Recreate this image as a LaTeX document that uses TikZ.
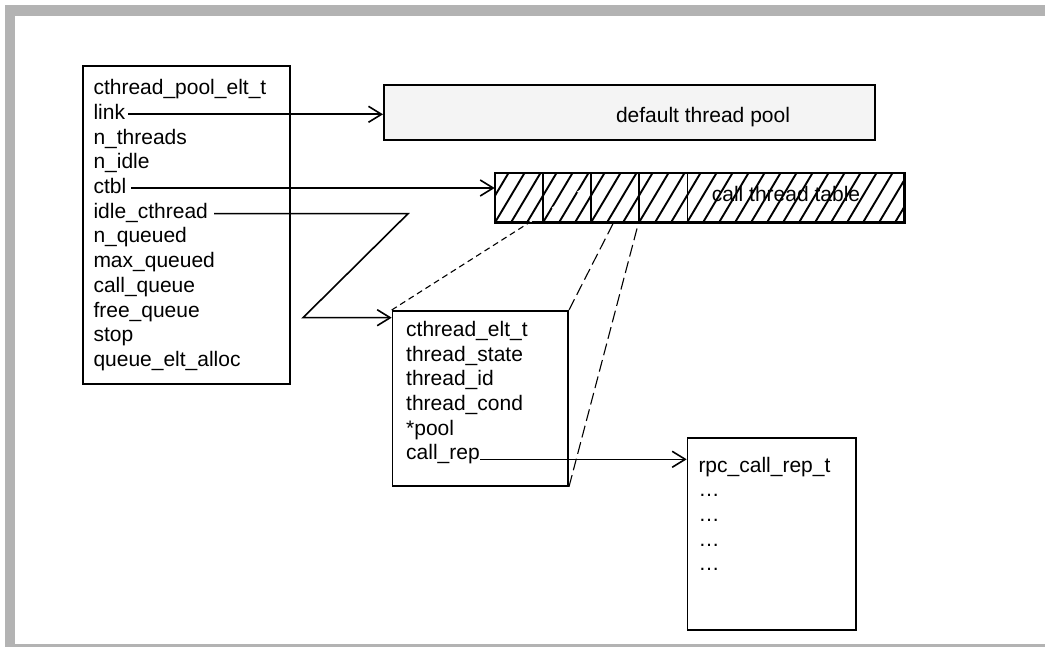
\documentclass[tikz,border=0pt]{standalone}
\usepackage{fontspec}
\setmainfont{Liberation Sans}
\usetikzlibrary{arrows.meta}
\definecolor{framegray}{HTML}{B3B3B3}
\definecolor{poolfill}{HTML}{F4F4F4}
\begin{document}
\begin{tikzpicture}[x=1pt,y=-1pt,
  box/.style={draw, line width=1.7pt, inner sep=0pt, anchor=north west},
  txt/.style={font=\fontsize{21}{24.7}\selectfont, align=left, inner sep=0pt, anchor=north west},
  lbl/.style={font=\fontsize{21}{24.7}\selectfont, inner sep=0pt, anchor=base},
  conn/.style={line width=1.6pt, -{Straight Barb[length=13pt,width=16pt]}},
  dashA/.style={line width=1.1pt, dash pattern=on 6pt off 4pt},
  dashB/.style={line width=1.1pt, dash pattern=on 12pt off 5pt},
  hatchline/.style={line width=1.9pt}]
\useasboundingbox (0,0) rectangle (1045,647);
% frame
\fill[framegray] (5,5) rectangle (1045,16);
\fill[framegray] (5,5) rectangle (15,647);
\fill[framegray] (15,644) rectangle (1045,647);

% left structure
\node[box, minimum width=207pt, minimum height=318pt] (poolelt) at (82.3,65) {};
\node[txt] (pooltxt) at (93.3,79.3) {cthread\_pool\_elt\_t\\link\\n\_threads\\n\_idle\\ctbl\\idle\_cthread\\n\_queued\\max\_queued\\call\_queue\\free\_queue\\stop\\queue\_elt\_alloc};

% default thread pool
\node[box, fill=poolfill, minimum width=491pt, minimum height=55pt] (dpool) at (383,84) {};
\node[lbl] (dpooltxt) at (703,122.7) {default thread pool};

% cthread element
\node[box, minimum width=175.6pt, minimum height=175pt] (ct) at (391.7,310) {};
\node[txt] (cttxt) at (406,321) {cthread\_elt\_t\\thread\_state\\thread\_id\\thread\_cond\\*pool\\call\_rep};

% rpc call rep
\node[box, minimum width=168.3pt, minimum height=192pt] (rpc) at (686.7,437) {};
\node[txt] (rpctxt) at (698.3,456.7) {rpc\_call\_rep\_t\\…\\…\\…\\…};

% dashed projection lines (under table)
\coordinate (d1) at (591,183.4);
\coordinate (d2) at (639,172.7);
\coordinate (d3) at (639,221);
\draw[dashA] (ct.north west) -- (d1);
\draw[dashB] (ct.north east) -- (d2);
\draw[dashB] (ct.south east) -- (d3);

% call thread table
\node[box, fill=white, minimum width=408.6pt, minimum height=48.3pt] (ctt) at (494.7,172.7) {};
\begin{scope}
  \clip (ctt.north west) rectangle (ctt.south east);
  \foreach \i in {-3,...,27}
    \draw[hatchline] ({494.7+\i*16},223) -- ++(31,-52);
  \draw[dashA, white] (ct.north west) -- (d1);
  \draw[dashB, white] (ct.north east) -- (d2);
\end{scope}
\draw[line width=1.7pt] (ctt.north west) rectangle (ctt.south east);
\foreach \x in {542.7,591,639,687.3}
  \draw[line width=1.6pt] (\x,172.7) -- (\x,221);
\node[lbl] (ctttxt) at (786,201.7) {call thread table};

% connectors
\coordinate (linkS) at (128,114.3);
\coordinate (ctblS) at (131,188);
\coordinate (idleS) at (214,213.7);
\coordinate (idleA) at (408,213.7);
\coordinate (idleB) at (303,317.7);
\coordinate (repS) at (480,459.3);
\draw[conn] (linkS) -- (dpool.west |- linkS);
\draw[conn] (ctblS) -- (ctt.west |- ctblS);
\draw[conn] (idleS) -- (idleA) -- (idleB) -- (ct.west |- idleB);
\draw[conn] (repS) -- (rpc.west |- repS);
\end{tikzpicture}
\end{document}
